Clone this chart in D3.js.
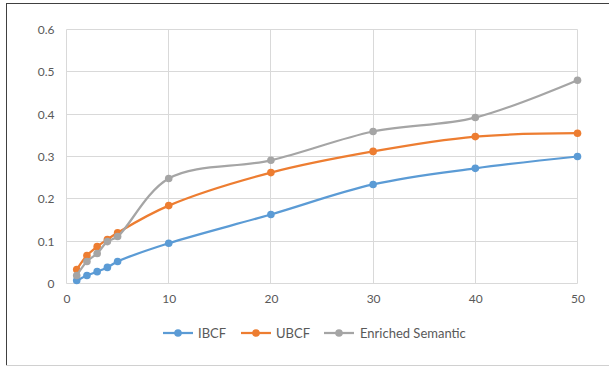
<!DOCTYPE html>
<html>
<head>
<meta charset="utf-8">
<script src="https://cdn.jsdelivr.net/npm/d3@7"></script>
<style>
  html, body { margin: 0; padding: 0; background: #fff; }
  svg { display: block; }
  text { font-family: Lato, "Open Sans", sans-serif; fill: #595959; }
</style>
</head>
<body>
<svg id="chart" width="609" height="366"></svg>
<script>
// Top-N values on the x axis
const xValues = [1, 2, 3, 4, 5, 10, 20, 30, 40, 50];

// One series per method
const ibcf     = [0.007, 0.019, 0.028, 0.038, 0.052, 0.095, 0.163, 0.234, 0.272, 0.300];
const ubcf     = [0.033, 0.066, 0.087, 0.104, 0.120, 0.184, 0.262, 0.312, 0.347, 0.355];
const enriched = [0.019, 0.052, 0.071, 0.099, 0.111, 0.248, 0.291, 0.359, 0.392, 0.480];

const seriesNames  = ["IBCF", "UBCF", "Enriched Semantic"];
const seriesColors = ["#5B9BD5", "#ED7D31", "#A5A5A5"];

const xTicks = [0, 10, 20, 30, 40, 50];
const yTicks = [0, 0.1, 0.2, 0.3, 0.4, 0.5, 0.6];

const svg = d3.select("#chart");

// frame around the chart
svg.append("line").attr("x1", 6.5).attr("x2", 6.5).attr("y1", 3).attr("y2", 366)
  .attr("stroke", "#404040").attr("stroke-width", 1);
svg.append("line").attr("x1", 6).attr("x2", 609).attr("y1", 3.5).attr("y2", 3.5)
  .attr("stroke", "#404040").attr("stroke-width", 1);
svg.append("line").attr("x1", 6).attr("x2", 609).attr("y1", 365.5).attr("y2", 365.5)
  .attr("stroke", "#d0d0d0").attr("stroke-width", 1);

const plot = { left: 66.5, right: 577.5, top: 29.5, bottom: 283.5 };

const x = d3.scaleLinear().domain([0, 50]).range([plot.left, plot.right]);
const y = d3.scaleLinear().domain([0, 0.6]).range([plot.bottom, plot.top]);

// gridlines
const grid = svg.append("g");
grid.selectAll(".hg").data(yTicks).join("line")
  .attr("x1", plot.left).attr("x2", plot.right)
  .attr("y1", d => Math.round(y(d) - 0.5) + 0.5).attr("y2", d => Math.round(y(d) - 0.5) + 0.5)
  .attr("stroke", "#d9d9d9").attr("stroke-width", 1);
grid.selectAll(".vg").data(xTicks).join("line")
  .attr("x1", d => Math.round(x(d) - 0.5) + 0.5).attr("x2", d => Math.round(x(d) - 0.5) + 0.5)
  .attr("y1", plot.top).attr("y2", plot.bottom)
  .attr("stroke", "#d9d9d9").attr("stroke-width", 1);

// axes (labels only, Excel-style)
const yAxis = d3.axisLeft(y).tickValues(yTicks).tickSize(0).tickPadding(12)
  .tickFormat(d => d === 0 ? "0" : d3.format(".1f")(d));
svg.append("g").attr("transform", `translate(${plot.left},0)`).call(yAxis)
  .call(g => g.select(".domain").remove())
  .call(g => g.selectAll("text").attr("font-size", 12).attr("font-family", "Lato, 'Open Sans', sans-serif").attr("fill", "#595959"));

const xAxis = d3.axisBottom(x).tickValues(xTicks).tickSize(0).tickPadding(11);
svg.append("g").attr("transform", `translate(0,${plot.bottom})`).call(xAxis)
  .call(g => g.select(".domain").remove())
  .call(g => g.selectAll("text").attr("font-size", 12).attr("font-family", "Lato, 'Open Sans', sans-serif").attr("fill", "#595959"));

// series
const allSeries = [ibcf, ubcf, enriched].map((vals, i) => ({
  name: seriesNames[i], color: seriesColors[i],
  points: vals.map((v, j) => ({ x: xValues[j], y: v }))
}));

const line = d3.line().x(d => x(d.x)).y(d => y(d.y)).curve(d3.curveCatmullRom.alpha(0.5));

const sg = svg.append("g").selectAll("g").data(allSeries).join("g");
sg.append("path")
  .attr("d", d => line(d.points))
  .attr("fill", "none").attr("stroke", d => d.color).attr("stroke-width", 2.25)
  .attr("stroke-linecap", "round");
sg.selectAll("circle").data(d => d.points.map(p => ({ ...p, color: d.color }))).join("circle")
  .attr("cx", d => x(d.x)).attr("cy", d => y(d.y)).attr("r", 3.8)
  .attr("fill", d => d.color);

// legend
const legendItems = [
  { x0: 163, tx: 198 },
  { x0: 241, tx: 276 },
  { x0: 324, tx: 360 }
];
const lg = svg.append("g").selectAll("g").data(allSeries).join("g")
  .attr("transform", (d, i) => `translate(${legendItems[i].x0},333)`);
lg.append("line").attr("x1", 0).attr("x2", 30).attr("y1", 0).attr("y2", 0)
  .attr("stroke", d => d.color).attr("stroke-width", 2.25);
lg.append("circle").attr("cx", 15).attr("cy", 0).attr("r", 3.8).attr("fill", d => d.color);
lg.append("text").attr("x", (d, i) => legendItems[i].tx - legendItems[i].x0).attr("y", 0)
  .attr("dy", "0.35em").attr("font-size", 13).text(d => d.name);
</script>
</body>
</html>
